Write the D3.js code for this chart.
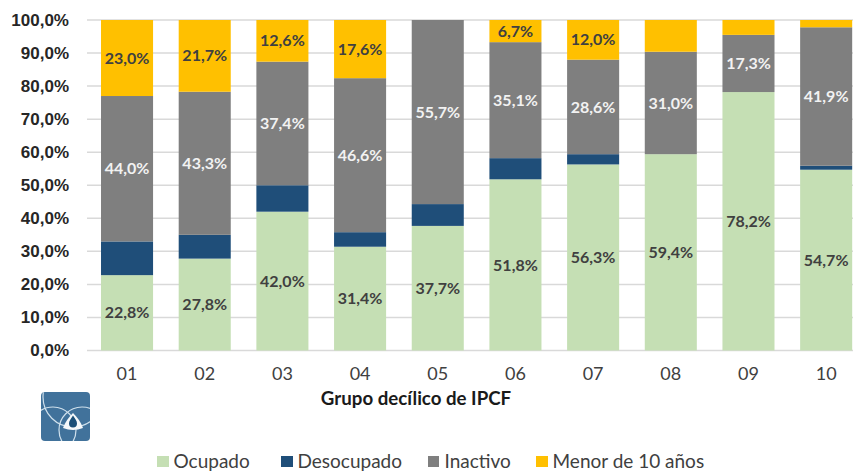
<!DOCTYPE html>
<html><head><meta charset="utf-8">
<script src="https://cdn.jsdelivr.net/npm/d3@7/dist/d3.min.js"></script>
<style>html,body{margin:0;padding:0;background:#fff;overflow:hidden}svg{display:block;font-family:Lato,"Open Sans",sans-serif}</style>
</head><body><svg id="c" width="853" height="472"></svg>
<script>
const deciles = ["01","02","03","04","05","06","07","08","09","10"];
const ocupado = [22.8,27.8,42.0,31.4,37.7,51.8,56.3,59.4,78.2,54.7];
const desocupado = [10.2,7.2,8.0,4.4,6.6,6.4,3.1,0,0,1.2];
const inactivo = [44.0,43.3,37.4,46.6,55.7,35.1,28.6,31.0,17.3,41.9];
const menor10 = [23.0,21.7,12.6,17.6,0,6.7,12.0,9.6,4.5,2.2];
const menorLabelled = ["01","02","03","04","06","07"];
const seriesNames = ["Ocupado","Desocupado","Inactivo","Menor de 10 años"];
const seriesColors = ["#c5dfb4","#1f4e79","#7f7f7f","#ffc000"];
const yTicks = [0,10,20,30,40,50,60,70,80,90,100];
const fmt = v => v.toFixed(1).replace(".",",")+"%";

const svg = d3.select("#c");
const x = d3.scaleBand().domain(deciles).range([88.2,865]).paddingInner(0.33).paddingOuter(0.165);
const y = d3.scaleLinear().domain([0,100]).range([350.5,20]);

// gridlines and y labels
const yAxis = d3.axisLeft(y).tickValues(yTicks).tickSize(0).tickPadding(18).tickFormat(fmt);
const gy = svg.append("g").attr("transform","translate(87,0)").call(yAxis);
gy.select(".domain").remove();
gy.selectAll("text").attr("font-size",17).attr("font-weight",700).attr("fill","#262626");
svg.append("g").selectAll("line").data(yTicks).join("line")
  .attr("x1",87).attr("x2",853).attr("y1",d=>y(d)).attr("y2",d=>y(d))
  .attr("stroke","#d9d9d9").attr("stroke-width",1.5);

// stacked bars
const rows = deciles.map((d,i)=>({d,a:ocupado[i],b:desocupado[i],c:inactivo[i],e:menor10[i]}));
const stack = d3.stack().keys(["a","b","c","e"])(rows);
stack.forEach((s,si)=>{
  svg.append("g").selectAll("rect").data(s).join("rect")
    .attr("x",d=>x(d.data.d)).attr("width",x.bandwidth())
    .attr("y",d=>y(d[1])).attr("height",d=>y(d[0])-y(d[1]))
    .attr("fill",seriesColors[si]);
});

// data labels
const labelStyle = [
  {si:0, fill:"#404040", show:()=>true},
  {si:2, fill:"#f2f2f2", show:()=>true},
  {si:3, fill:"#404040", show:d=>menorLabelled.includes(d.data.d)}
];
labelStyle.forEach(l=>{
  svg.append("g").selectAll("text").data(stack[l.si].filter(l.show)).join("text")
    .attr("x",d=>x(d.data.d)+x.bandwidth()/2)
    .attr("y",d=>y((d[0]+d[1])/2)).attr("dy","0.35em")
    .attr("text-anchor","middle").attr("font-size",16).attr("font-weight",700)
    .attr("fill",l.fill).text(d=>fmt(d[1]-d[0]));
});

// x axis
const gx = svg.append("g").attr("transform","translate(0,350.5)").call(d3.axisBottom(x).tickSize(0).tickPadding(17));
gx.select(".domain").remove();
gx.selectAll("text").attr("font-size",18).attr("fill","#404040").attr("font-family","Lato");
svg.append("text").attr("x",416).attr("y",405).attr("text-anchor","middle")
  .attr("font-size",18.7).attr("font-weight",700).attr("fill","#1a1a1a").text("Grupo decílico de IPCF");

// legend
const legendX = [157,281,428,536];
seriesNames.forEach((n,i)=>{
  svg.append("rect").attr("x",legendX[i]).attr("y",456).attr("width",i===2?11:12).attr("height",11).attr("fill",seriesColors[i]);
  svg.append("text").attr("x",legendX[i]+16.5).attr("y",467.5).attr("font-size",19).attr("fill","#404040").text(n);
});

// logo
const logo = svg.append("g").attr("transform","translate(41,392)");
const clip = svg.append("defs").append("clipPath").attr("id","lg");
clip.append("rect").attr("width",49).attr("height",49).attr("rx",4);
logo.append("rect").attr("width",49).attr("height",49).attr("rx",4).attr("fill","#41729b");
const lc = logo.append("g").attr("clip-path","url(#lg)").attr("fill","none").attr("stroke","#cfe0ec").attr("stroke-width",1.2);
lc.append("circle").attr("cx",32).attr("cy",5).attr("r",30);
lc.append("circle").attr("cx",12).attr("cy",38).attr("r",23);
lc.append("circle").attr("cx",41).attr("cy",38).attr("r",23);
logo.append("path").attr("d","M32,21 C36,25 40,30 42,36 Q32,40 22,36 C24,30 28,25 32,21 Z").attr("fill","#f5f8fa");
logo.append("path").attr("d","M32,23.5 C34,26.5 36,29 36,31.5 A4,4 0 0 1 28,31.5 C28,29 30,26.5 32,23.5 Z").attr("fill","#1b4f78");
</script></body></html>
